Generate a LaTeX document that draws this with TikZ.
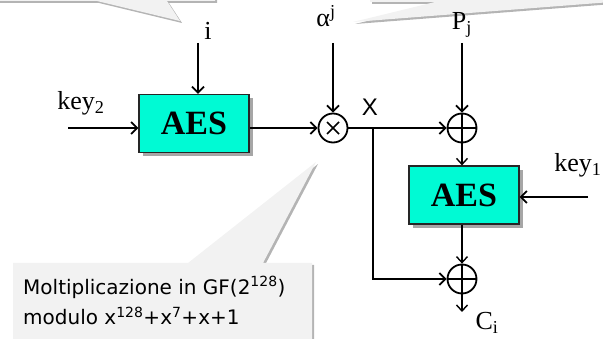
\documentclass[tikz,border=0pt]{standalone}
\usepackage{fontspec}
\setmainfont{Liberation Serif}
\newfontfamily\callfont{DejaVu Sans}
\newfontfamily\xfont{Liberation Sans}
\usetikzlibrary{arrows.meta,shadows}
\definecolor{aescol}{RGB}{0,250,212}
\definecolor{callgray}{RGB}{242,242,242}
\definecolor{callshadow}{RGB}{180,180,180}
\begin{document}
\begin{tikzpicture}[x=1pt,y=-1pt,
  lbl/.style={font=\fontsize{26}{30}\selectfont, inner sep=0pt, anchor=base},
  aesbox/.style={draw=black!85, line width=1.2pt, fill=aescol, minimum width=110pt, minimum height=58pt, inner sep=0pt, font=\fontsize{34}{38}\selectfont\bfseries, drop shadow={shadow xshift=4pt, shadow yshift=-4pt, fill=black, opacity=0.35}},
  opnode/.style={circle, draw, line width=1.8pt, minimum size=29pt, inner sep=0pt},
  arr/.style={line width=1.8pt, -{Straight Barb[length=6pt,width=12pt]}},
  thinarr/.style={line width=1.4pt, -{Straight Barb[length=6pt,width=11pt]}},
  callout/.style={fill=callgray},
  callsh/.style={fill=callshadow}
]
\useasboundingbox (0,0) rectangle (603,339);
\begin{scope}
\clip (0,0) rectangle (603,339);
% shadows of callouts
\begin{scope}[shift={(2,2)}]
\fill[callsh] (-10,-60) -- (215,-60) -- (215,1) -- (167,1) -- (180,21) -- (97,1) -- (-10,1) -- cycle;
\fill[callsh] (370,-60) -- (650,-60) -- (650,-1) -- (353,22) -- (435,2) -- (370,2) -- cycle;
\fill[callsh] (13,263) -- (188,263) -- (316,162) -- (263,263) -- (312,263) -- (312,350) -- (13,350) -- cycle;
\end{scope}
% callouts
\fill[callout] (-10,-60) -- (215,-60) -- (215,1) -- (167,1) -- (180,21) -- (97,1) -- (-10,1) -- cycle;
\fill[callout] (370,-60) -- (650,-60) -- (650,-1) -- (353,22) -- (435,2) -- (370,2) -- cycle;
\fill[callout] (13,263) -- (188,263) -- (316,162) -- (263,263) -- (312,263) -- (312,350) -- (13,350) -- cycle;
\end{scope}
\node[anchor=base west, inner sep=0pt, align=left, font=\callfont\fontsize{20}{31}\selectfont] (calltxt) at (23,325)
  {Moltiplicazione in GF(2\textsuperscript{128})\\modulo x\textsuperscript{128}+x\textsuperscript{7}+x+1};

% labels
\node[lbl] (ilbl) at (208,40) {i};
\node[lbl] (albl) at (326,27) {α\textsuperscript{j}};
\node[lbl] (plbl) at (462,30) {P\textsubscript{j}};
\node[lbl] (k2lbl) at (81,110) {key\textsubscript{2}};
\node[lbl] (k1lbl) at (578,172) {key\textsubscript{1}};
\node[lbl] (clbl) at (487,330) {C\textsubscript{i}};
\node[inner sep=0pt, font=\xfont\fontsize{24}{26}\selectfont] (xlbl) at (370,107) {X};

% blocks
\node[aesbox] (aes1) at (194,123.5) {AES};
\node[aesbox] (aes2) at (464,195) {AES};
\node[opnode] (mult) at (333,128) {};
\draw[line width=1.6pt] ([shift={(-6,-6)}]mult.center) -- ([shift={(6,6)}]mult.center)
                        ([shift={(-6,6)}]mult.center) -- ([shift={(6,-6)}]mult.center);
\node[opnode] (xor1) at (462,128) {};
\draw[line width=1.8pt] (xor1.north) -- (xor1.south) (xor1.west) -- (xor1.east);
\node[opnode] (xor2) at (462,279) {};
\draw[line width=1.8pt] (xor2.north) -- (xor2.south) (xor2.west) -- (xor2.east);

% connector ends
\coordinate (iin) at (198,43);
\coordinate (ain) at (333,43);
\coordinate (pin) at (462,43);
\coordinate (k2in) at (68,128);
\coordinate (k1in) at (588,197);
\coordinate (br) at (373,128);
\coordinate (cout) at (462,312);

% connectors
\draw[arr] (iin) -- (iin |- aes1.north);
\draw[arr] (k2in) -- (k2in -| aes1.west);
\draw[arr] (aes1.east |- mult) -- (mult.west);
\draw[arr] (ain) -- (mult.north);
\draw[arr] (mult.east) -- (xor1.west);
\draw[arr] (pin) -- (xor1.north);
\draw[arr] (br) -- (br |- xor2) -- (xor2.west);
\draw[thinarr] (xor1.south) -- (xor1 |- aes2.north);
\draw[arr] (k1in) -- (k1in -| aes2.east);
\draw[thinarr] (xor2 |- aes2.south) -- (xor2.north);
\draw[thinarr] (xor2.south) -- (cout);
\end{tikzpicture}
\end{document}
